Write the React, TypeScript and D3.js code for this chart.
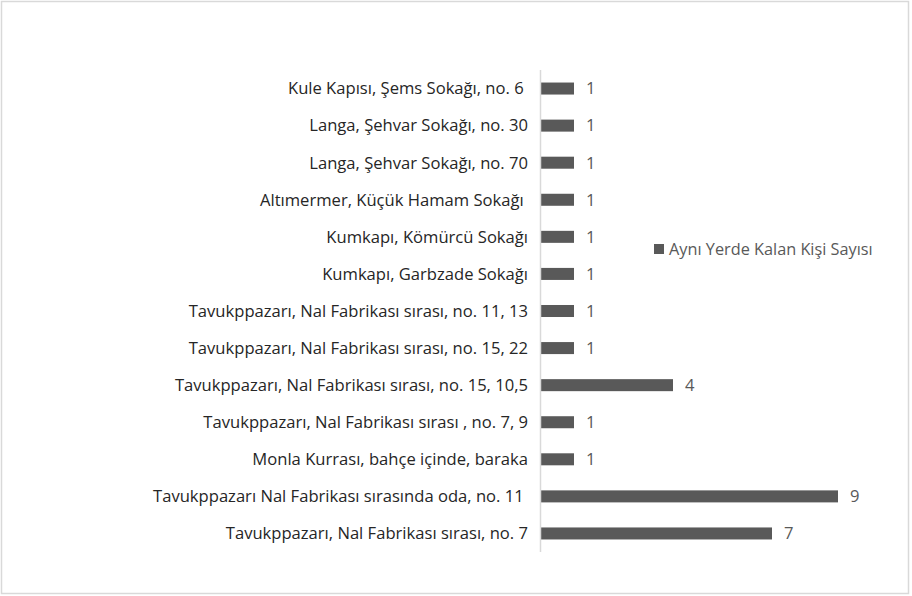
import { useEffect, useRef } from 'react';
import * as d3 from 'd3';

const categories = [
  'Kule Kapısı, Şems Sokağı, no. 6 ',
  'Langa, Şehvar Sokağı, no. 30',
  'Langa, Şehvar Sokağı, no. 70',
  'Altımermer, Küçük Hamam Sokağı ',
  'Kumkapı, Kömürcü Sokağı',
  'Kumkapı, Garbzade Sokağı',
  'Tavukppazarı, Nal Fabrikası sırası, no. 11, 13',
  'Tavukppazarı, Nal Fabrikası sırası, no. 15, 22',
  'Tavukppazarı, Nal Fabrikası sırası, no. 15, 10,5',
  'Tavukppazarı, Nal Fabrikası sırası , no. 7, 9',
  'Monla Kurrası, bahçe içinde, baraka',
  'Tavukppazarı Nal Fabrikası sırasında oda, no. 11 ',
  'Tavukppazarı, Nal Fabrikası sırası, no. 7',
];
const values = [1, 1, 1, 1, 1, 1, 1, 1, 4, 1, 1, 9, 7];
const seriesName = 'Aynı Yerde Kalan Kişi Sayısı';

const W = 912;
const H = 596;
const FONT = '"Open Sans", "Noto Sans", sans-serif';

export default function App() {
  const svgRef = useRef<SVGSVGElement>(null);

  useEffect(() => {
    if (!svgRef.current) return;
    const svg = d3.select(svgRef.current);
    svg.selectAll('*').remove();

    // chart border
    svg.append('rect')
      .attr('x', 1.5).attr('y', 1.5)
      .attr('width', W - 5).attr('height', H - 4)
      .attr('fill', '#fff')
      .attr('stroke', '#d9d9d9')
      .attr('stroke-width', 1.5);

    const plotTop = 70;
    const plotBottom = 552;
    const x0 = 541;

    const y = d3.scaleBand()
      .domain(categories)
      .range([plotTop, plotBottom])
      .paddingInner(0.676)
      .paddingOuter(0.338);

    const x = d3.scaleLinear().domain([0, 10]).range([x0, x0 + 330]);

    const g = svg.append('g');

    g.selectAll('.bar')
      .data(values)
      .enter()
      .append('rect')
      .attr('class', 'bar')
      .attr('x', x(0))
      .attr('y', (_, i) => y(categories[i]) || 0)
      .attr('width', d => x(d) - x(0))
      .attr('height', y.bandwidth())
      .attr('fill', '#595959');

    // category axis line
    g.append('line')
      .attr('x1', x0 - 0.5).attr('x2', x0 - 0.5)
      .attr('y1', plotTop).attr('y2', plotBottom)
      .attr('stroke', '#d9d9d9')
      .attr('stroke-width', 1.5);

    // category labels
    g.selectAll('.cat')
      .data(categories)
      .enter()
      .append('text')
      .attr('class', 'cat')
      .attr('x', 528)
      .attr('y', d => (y(d) || 0) + y.bandwidth() / 2)
      .attr('dy', '0.35em')
      .attr('text-anchor', 'end')
      .attr('xml:space', 'preserve')
      .style('white-space', 'pre')
      .attr('font-family', FONT)
      .attr('font-size', 16.6)
      .attr('fill', '#262626')
      .text(d => d);

    // value labels
    g.selectAll('.val')
      .data(values)
      .enter()
      .append('text')
      .attr('class', 'val')
      .attr('x', d => x(d) + 12)
      .attr('y', (_, i) => (y(categories[i]) || 0) + y.bandwidth() / 2)
      .attr('dy', '0.35em')
      .attr('font-family', FONT)
      .attr('font-size', 16.6)
      .attr('fill', '#595959')
      .text(d => String(d));

    // legend
    const lg = svg.append('g').attr('transform', 'translate(654,244)');
    lg.append('rect')
      .attr('width', 10).attr('height', 10)
      .attr('fill', '#595959');
    lg.append('text')
      .attr('x', 15).attr('y', 5)
      .attr('dy', '0.35em')
      .attr('font-family', FONT)
      .attr('font-size', 16.3)
      .attr('fill', '#595959')
      .text(seriesName);
  }, []);

  return (
    <svg
      ref={svgRef}
      width={W}
      height={H}
      style={{ display: 'block', position: 'absolute', left: 0, top: 0 }}
    />
  );
}
